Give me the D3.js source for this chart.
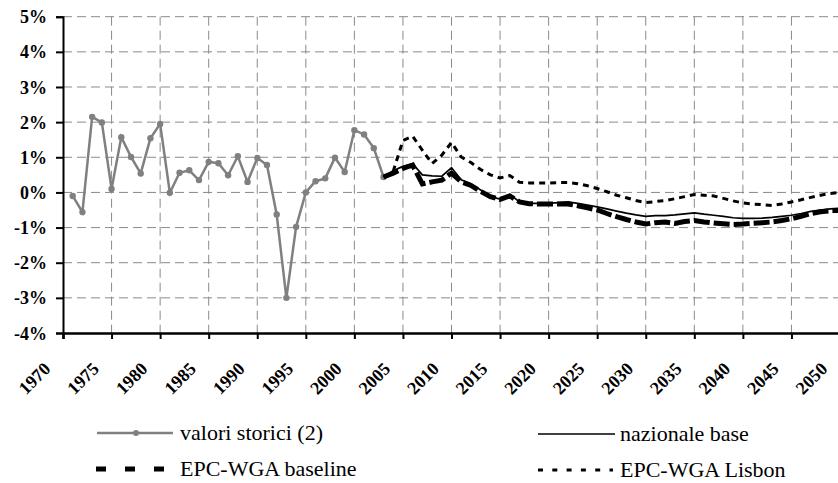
<!DOCTYPE html>
<html>
<head>
<meta charset="utf-8">
<script src="https://cdnjs.cloudflare.com/ajax/libs/d3/7.8.5/d3.min.js"></script>
<style>
  body { margin: 0; background: #fff; }
  svg, svg text { font-family: 'Times New Roman', 'Liberation Serif', Tinos, serif !important; }
  .grid line { stroke: #8a8a8a; stroke-width: 1; stroke-dasharray: 9,5; }
</style>
</head>
<body>
<svg width="838" height="483" font-family="Times New Roman"></svg>
<script>
/*global d3*/

// anni storici 1971-2003, proiezioni 2003-2050
var histYears = d3.range(1971, 2004)
var histValues = [-0.10, -0.56, 2.15, 1.99, 0.10, 1.57, 1.01, 0.54, 1.54, 1.95,
  -0.01, 0.56, 0.63, 0.35, 0.87, 0.83, 0.49, 1.03, 0.30, 0.98,
  0.78, -0.63, -3.00, -0.98, 0.00, 0.32, 0.40, 0.99, 0.58, 1.77,
  1.65, 1.26, 0.44]

var projYears = d3.range(2003, 2051)
var nazionaleBase = [0.44, 0.62, 0.74, 0.82, 0.50, 0.47, 0.46, 0.70, 0.36, 0.25,
  0.07, -0.12, -0.19, -0.05, -0.27, -0.31, -0.31, -0.31, -0.29, -0.27,
  -0.31, -0.36, -0.41, -0.47, -0.53, -0.59, -0.64, -0.68, -0.66, -0.66,
  -0.64, -0.61, -0.58, -0.62, -0.65, -0.68, -0.72, -0.74, -0.74, -0.73,
  -0.71, -0.68, -0.65, -0.60, -0.54, -0.50, -0.47, -0.45]
var epcBaseline = [0.44, 0.55, 0.68, 0.78, 0.24, 0.30, 0.35, 0.55, 0.30, 0.20,
  0.03, -0.12, -0.20, -0.10, -0.27, -0.32, -0.33, -0.33, -0.33, -0.33,
  -0.38, -0.44, -0.50, -0.60, -0.69, -0.77, -0.84, -0.90, -0.86, -0.84,
  -0.88, -0.83, -0.80, -0.84, -0.87, -0.89, -0.91, -0.90, -0.88, -0.86,
  -0.84, -0.80, -0.75, -0.68, -0.60, -0.55, -0.52, -0.51]
var epcLisbon = [0.44, 0.60, 1.48, 1.60, 1.20, 0.82, 1.06, 1.42, 1.01, 0.85,
  0.65, 0.50, 0.41, 0.48, 0.29, 0.27, 0.27, 0.27, 0.28, 0.28,
  0.25, 0.19, 0.11, 0.02, -0.08, -0.15, -0.23, -0.29, -0.26, -0.23,
  -0.18, -0.12, -0.06, -0.08, -0.10, -0.17, -0.24, -0.30, -0.33, -0.35,
  -0.37, -0.33, -0.27, -0.21, -0.14, -0.08, -0.03, 0.00]

var yTicks = [-4, -3, -2, -1, 0, 1, 2, 3, 4, 5]
var xTicks = d3.range(1970, 2051, 5)

var legendItems = ['valori storici (2)', 'nazionale base', 'EPC-WGA baseline', 'EPC-WGA Lisbon']

;(function () {

  var svg = d3.select('svg')
  var left = 63
  var top = 16.7
  var bottom = 333

  var x = d3.scaleLinear().domain([1970, 2050]).range([left, 840])
  var y = d3.scaleLinear().domain([-4, 5]).range([bottom, top])

  // griglia
  var grid = svg.append('g').attr('class', 'grid')
  grid.selectAll('line.h')
    .data(yTicks.filter(function (d) { return d > -4 }))
    .enter().append('line')
    .attr('class', 'h')
    .attr('x1', left).attr('x2', 838)
    .attr('y1', function (d) { return y(d) })
    .attr('y2', function (d) { return y(d) })
  grid.selectAll('line.v')
    .data(xTicks.filter(function (d) { return d > 1970 }))
    .enter().append('line')
    .attr('class', 'v')
    .attr('x1', function (d) { return x(d) })
    .attr('x2', function (d) { return x(d) })
    .attr('y1', top).attr('y2', bottom)

  // assi
  var yAxis = d3.axisLeft(y).tickValues(yTicks).tickSize(7).tickFormat(function (d) { return d + '%' })
  var gy = svg.append('g').attr('transform', 'translate(' + left + ',0)').call(yAxis)
  gy.attr('font-family', 'Times New Roman').attr('font-size', 18).attr('font-weight', 'bold')
  gy.select('.domain').attr('stroke', '#000').attr('stroke-width', 2)
  gy.selectAll('.tick line').attr('stroke', '#000').attr('stroke-width', 2)
  gy.selectAll('.tick text')
    .attr('x', -16)
    .attr('dy', '0.34em')
    .attr('fill', '#000')

  var xAxis = d3.axisBottom(x).tickValues(xTicks).tickSize(6).tickFormat(d3.format('d'))
  var gx = svg.append('g').attr('transform', 'translate(0,' + bottom + ')').call(xAxis)
  gx.attr('font-family', 'Times New Roman').attr('font-size', 18).attr('font-weight', 'bold')
  gx.select('.domain').attr('stroke', '#000').attr('stroke-width', 2.5)
  gx.selectAll('.tick line').attr('stroke', '#000').attr('stroke-width', 2)
  gx.selectAll('.tick text')
    .attr('y', null).attr('dy', null)
    .attr('fill', '#000')
    .attr('text-anchor', 'end')
    .attr('transform', 'translate(-12,37) rotate(-45)')

  var line = d3.line()
    .x(function (d) { return x(d[0]) })
    .y(function (d) { return y(d[1]) })

  var hist = d3.zip(histYears, histValues)
  var plot = svg.append('g')

  plot.append('path')
    .attr('d', line(hist))
    .attr('fill', 'none').attr('stroke', '#808080').attr('stroke-width', 2.5)
  plot.selectAll('circle')
    .data(hist)
    .enter().append('circle')
    .attr('cx', function (d) { return x(d[0]) })
    .attr('cy', function (d) { return y(d[1]) })
    .attr('r', 3.2)
    .attr('fill', '#808080')

  plot.append('path')
    .attr('d', line(d3.zip(projYears, nazionaleBase)))
    .attr('fill', 'none').attr('stroke', '#000').attr('stroke-width', 1.7)
  plot.append('path')
    .attr('d', line(d3.zip(projYears, epcBaseline)))
    .attr('fill', 'none').attr('stroke', '#000').attr('stroke-width', 5)
    .attr('stroke-dasharray', '16,4')
  plot.append('path')
    .attr('d', line(d3.zip(projYears, epcLisbon)))
    .attr('fill', 'none').attr('stroke', '#000').attr('stroke-width', 3)
    .attr('stroke-dasharray', '6,5')

  // legenda
  var leg = svg.append('g')
    .attr('font-family', 'Times New Roman')
    .attr('font-size', 22)
  var pos = [[97, 433], [538, 434], [96, 469], [538, 470]]
  var styles = [
    { color: '#808080', width: 2.5, dash: null, len: 76 },
    { color: '#000', width: 1.7, dash: null, len: 77 },
    { color: '#000', width: 5, dash: '10,19', len: 68 },
    { color: '#000', width: 3, dash: '5,9.3', len: 75 }
  ]
  legendItems.forEach(function (name, i) {
    var p = pos[i]
    var s = styles[i]
    leg.append('line')
      .attr('x1', p[0]).attr('x2', p[0] + s.len)
      .attr('y1', p[1]).attr('y2', p[1])
      .attr('stroke', s.color).attr('stroke-width', s.width)
      .attr('stroke-dasharray', s.dash)
    if (i === 0) {
      leg.append('circle').attr('cx', p[0] + 39).attr('cy', p[1]).attr('r', 3).attr('fill', '#808080')
    }
    leg.append('text')
      .attr('x', (i % 2 === 0) ? 180 : 620)
      .attr('y', p[1] + 7)
      .attr('fill', '#000')
      .text(name)
  })

})()
</script>
</body>
</html>
